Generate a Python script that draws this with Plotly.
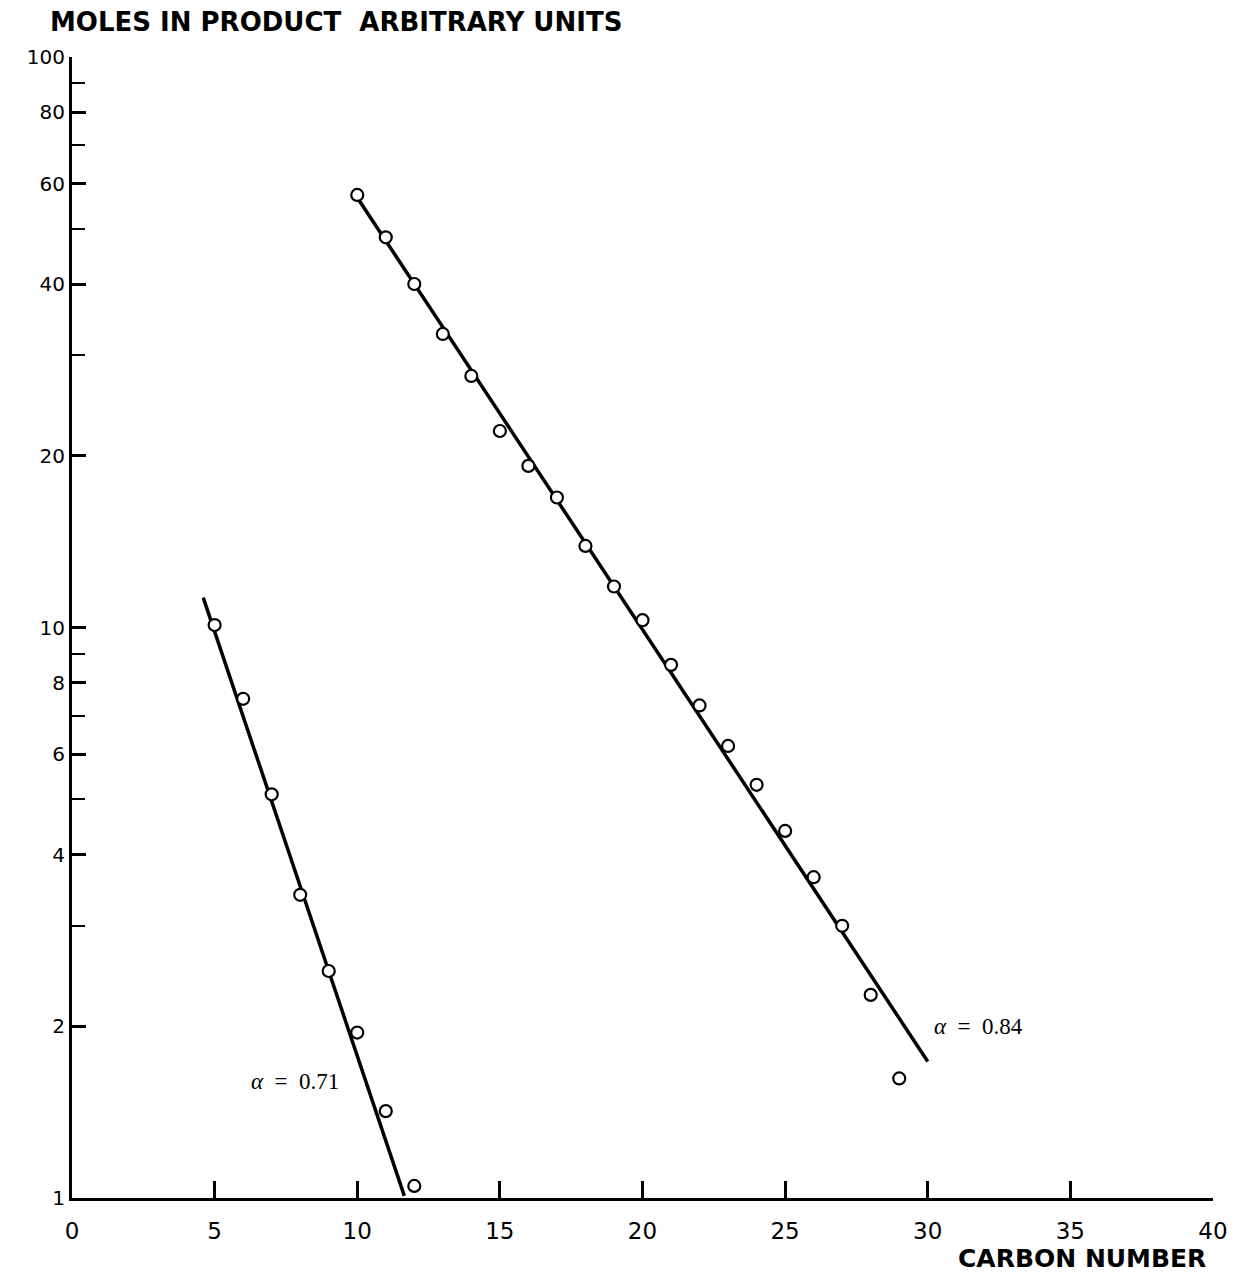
import numpy as np
import plotly.graph_objects as go

# Product distribution: moles in product vs carbon number (two catalysts)
carbon_a = [5, 6, 7, 8, 9, 10, 11, 12]
moles_a = [10.1, 7.5, 5.1, 3.4, 2.5, 1.95, 1.42, 1.05]

carbon_b = [10, 11, 12, 13, 14, 15, 16, 17, 18, 19,
            20, 21, 22, 23, 24, 25, 26, 27, 28, 29]
moles_b = [57.3, 48.3, 40.0, 32.7, 27.6, 22.1, 19.2, 16.9, 13.9, 11.8,
           10.3, 8.6, 7.3, 6.2, 5.3, 4.4, 3.65, 3.0, 2.27, 1.62]

# Chain-growth probabilities and the fitted lines: y = y_ref * alpha ** (n - n_ref)
alpha_a = 0.71
alpha_b = 0.84
fit_a_ref = (8.0, 3.52)
fit_b_ref = (9.9, 57.7)
fit_a_span = [4.6, 11.65]
fit_b_span = [9.9, 30.0]

x_ticks = [0, 5, 10, 15, 20, 25, 30, 35, 40]
y_ticks = [1, 2, 4, 6, 8, 10, 20, 40, 60, 80, 100]
y_minor = [3, 5, 7, 9, 30, 50, 70, 90]


def fit_line(alpha, ref, span):
    n = np.array(span, dtype=float)
    return n, ref[1] * alpha ** (n - ref[0])


fig = go.Figure()

for alpha, ref, span in [(alpha_a, fit_a_ref, fit_a_span),
                         (alpha_b, fit_b_ref, fit_b_span)]:
    xs, ys = fit_line(alpha, ref, span)
    fig.add_trace(go.Scatter(x=xs, y=ys, mode="lines",
                             line=dict(color="black", width=3.5),
                             hoverinfo="skip", showlegend=False))

for xs, ys in [(carbon_a, moles_a), (carbon_b, moles_b)]:
    fig.add_trace(go.Scatter(
        x=xs, y=ys, mode="markers", showlegend=False,
        marker=dict(symbol="circle", size=12, color="white",
                    line=dict(color="black", width=2.2))))

fig.update_xaxes(
    range=[0, 40], tickvals=x_ticks, ticktext=[str(v) for v in x_ticks],
    showline=True, linecolor="black", linewidth=3,
    ticks="inside", ticklen=17, tickwidth=2.5, tickcolor="black",
    ticklabelstandoff=10,
    tickfont=dict(family="DejaVu Sans", size=23, color="black"),
    showgrid=False, zeroline=False, mirror=False,
)
fig.update_yaxes(
    type="log", range=[0, 2],
    tickvals=y_ticks, ticktext=[str(v) for v in y_ticks],
    showline=True, linecolor="black", linewidth=3,
    ticks="inside", ticklen=14, tickwidth=2.5, tickcolor="black",
    ticklabelstandoff=0,
    tickfont=dict(family="DejaVu Sans", size=20, color="black"),
    minor=dict(tickvals=y_minor, ticks="inside", ticklen=13,
               tickwidth=2, tickcolor="black", showgrid=False),
    showgrid=False, zeroline=False, mirror=False,
)

annotations = [
    dict(text="<b>MOLES IN PRODUCT\u00a0\u00a0ARBITRARY UNITS</b>", xref="paper", yref="paper",
         x=-0.021, y=1.031, xanchor="left", yanchor="middle", showarrow=False,
         font=dict(family="DejaVu Sans", size=26, color="black")),
    dict(text="<b>CARBON NUMBER</b>", xref="paper", yref="paper",
         x=0.996, y=-0.0526, xanchor="right", yanchor="middle", showarrow=False,
         font=dict(family="DejaVu Sans", size=25, color="black")),
    dict(text="<i>α</i>\u00a0\u00a0=\u00a0\u00a0" + f"{alpha_a:.2f}", x=7.83, y=np.log10(1.6),
         xanchor="center", yanchor="middle", showarrow=False,
         font=dict(family="Liberation Serif", size=23, color="black")),
    dict(text="<i>α</i>\u00a0\u00a0=\u00a0\u00a0" + f"{alpha_b:.2f}", x=31.78, y=np.log10(2.0),
         xanchor="center", yanchor="middle", showarrow=False,
         font=dict(family="Liberation Serif", size=23, color="black")),
]

fig.update_layout(
    width=1240, height=1274,
    margin=dict(l=72, r=23, t=57, b=76),
    paper_bgcolor="white", plot_bgcolor="white",
    annotations=annotations,
)

fig.write_html("out.html")
